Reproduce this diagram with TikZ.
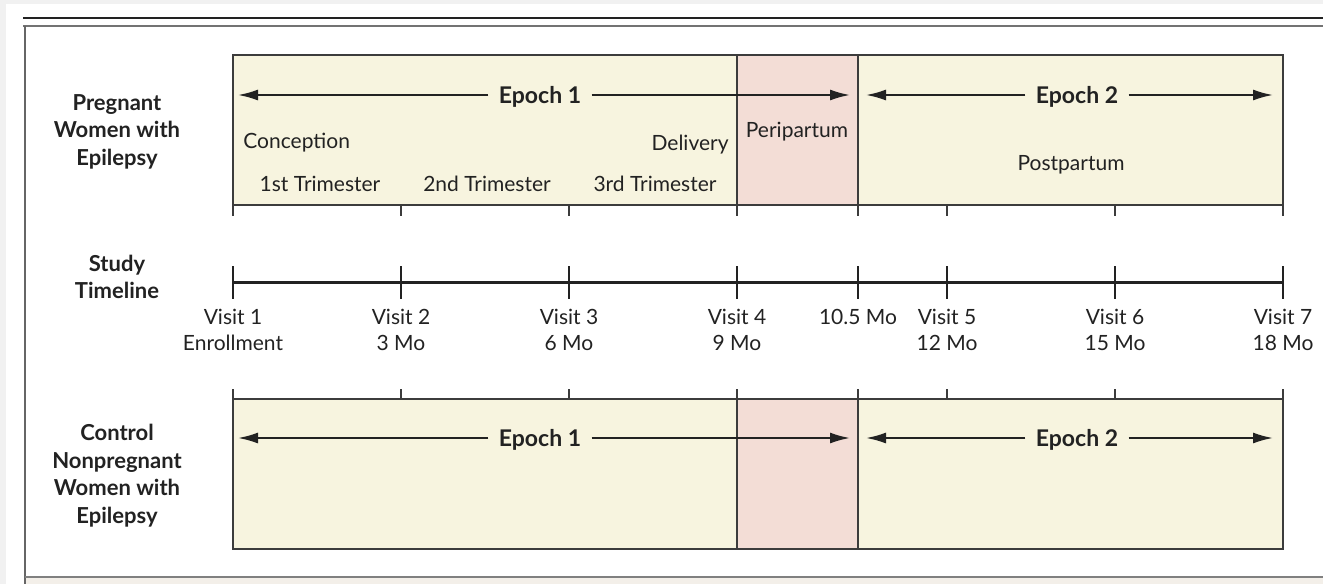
\documentclass[tikz,border=0pt]{standalone}
\usepackage{fontspec}
\setmainfont{Lato}
\usetikzlibrary{arrows.meta,positioning}
\tikzset{>={Latex[width=5.5pt,length=10pt]}}
\definecolor{panel}{HTML}{F7F4DF}
\definecolor{peri}{HTML}{F3DDD6}
\definecolor{boxline}{HTML}{3C3C3C}
\definecolor{ink}{HTML}{222222}
\definecolor{outer}{HTML}{F1F1F1}
\definecolor{foot}{HTML}{F3EFE9}

\begin{document}
\begin{tikzpicture}[x=0.5pt, y=-0.5pt,
	lbl/.style={font=\fontsize{10.5}{13}\selectfont, text=ink, inner sep=0pt},
	grp/.style={font=\bfseries\fontsize{11}{13.75}\selectfont, text=ink, align=center, inner sep=0pt},
	epoch/.style={font=\bfseries\fontsize{11.5}{13}\selectfont, text=ink, inner xsep=5pt, inner ysep=0pt},
	tick/.style={draw=boxline, line width=1pt},
	band/.style={draw=boxline, line width=1pt}]
	\useasboundingbox (0,0) rectangle (1323,584);
	\fill[outer] (0,0) rectangle (1323,584);
	\fill[white] (6,4) rectangle (1323,584);
	\fill[foot] (25,577) rectangle (1323,584);
	\draw[ink, line width=1pt] (23,18) -- (1323,18);
	\draw[black!55, line width=1pt] (23,26) -- (1323,26);
	\draw[black!60, line width=1pt] (25,26) -- (25,584);
	\draw[black!50, line width=1pt] (25,577) -- (1323,577);

	\filldraw[band, fill=panel] (233,55) rectangle (1283,205);
	\filldraw[band, fill=peri] (737,55) rectangle (858,205);
	\filldraw[band, fill=panel] (233,399) rectangle (1283,549);
	\filldraw[band, fill=peri] (737,399) rectangle (858,549);

	\draw[ink, line width=1.5pt] (233,282) -- (1283,282);
	\foreach \x in {233,401,569,737,858,947,1115,1283} {
		\draw[tick] (\x,205) -- (\x,216);
		\draw[tick] (\x,389) -- (\x,399);
		\draw[tick, draw=ink, line width=1.2pt] (\x,266) -- (\x,299);
	}

	\node[grp] (preg) at (117,131.5) {Pregnant\\Women with\\Epilepsy};
	\node[grp] (study) at (117,277) {Study\\Timeline};
	\node[grp] (ctrl) at (117,475.5) {Control\\Nonpregnant\\Women with\\Epilepsy};

	\node[lbl, anchor=west] (conc) at (243,143) {Conception};
	\node[lbl, anchor=east] (deliv) at (729,145) {Delivery};
	\node[lbl] (peri) at (797,132) {Peripartum};
	\node[lbl] (post) at (1071,165) {Postpartum};
	\node[lbl] (tri1) at (320,184) {1st Trimester};
	\node[lbl] (tri2) at (487,184) {2nd Trimester};
	\node[lbl] (tri3) at (655,184) {3rd Trimester};

	\foreach \x/\n/\m [count=\i] in {233/Visit 1/Enrollment, 401/Visit 2/3 Mo, 569/Visit 3/6 Mo,
		737/Visit 4/9 Mo, 947/Visit 5/12 Mo, 1115/Visit 6/15 Mo, 1283/Visit 7/18 Mo}
		\node[lbl, align=center] (visit\i) at (\x,330) {\n\\\m};
	\node[lbl] (mid) at (858,317) {10.5 Mo};

	\coordinate (a1l) at (238,95);
	\coordinate (a1r) at (850,95);
	\coordinate (a2l) at (866,95);
	\coordinate (a2r) at (1273,95);
	\coordinate (b1l) at (238,438);
	\coordinate (b1r) at (850,438);
	\coordinate (b2l) at (866,438);
	\coordinate (b2r) at (1273,438);
	\node[epoch] (ep1) at (540,96.5) {Epoch 1};
	\node[epoch] (ep2) at (1077,96.5) {Epoch 2};
	\node[epoch] (cp1) at (540,439.5) {Epoch 1};
	\node[epoch] (cp2) at (1077,439.5) {Epoch 2};
	\path[->, ink, line width=1pt]
	(ep1.west |- a1l) edge (a1l)
	(ep1.east |- a1r) edge (a1r)
	(ep2.west |- a2l) edge (a2l)
	(ep2.east |- a2r) edge (a2r)
	(cp1.west |- b1l) edge (b1l)
	(cp1.east |- b1r) edge (b1r)
	(cp2.west |- b2l) edge (b2l)
	(cp2.east |- b2r) edge (b2r);
\end{tikzpicture}
\end{document}
